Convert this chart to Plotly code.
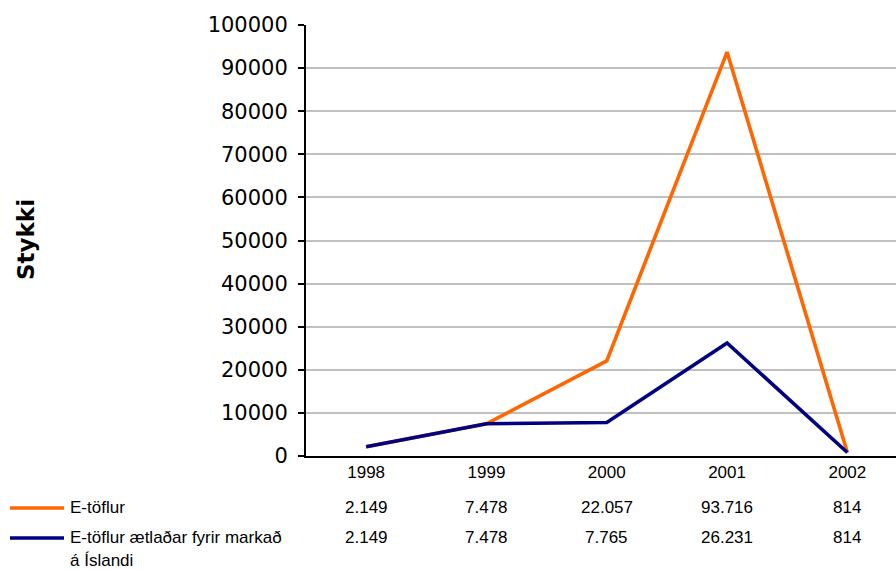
import plotly.graph_objects as go

years = ["1998", "1999", "2000", "2001", "2002"]
e_toflur = [2149, 7478, 22057, 93716, 814]
e_toflur_island = [2149, 7478, 7765, 26231, 814]
series_names = ["E-töflur", "E-töflur ætlaðar fyrir markað", "á Íslandi"]
y_title = "Stykki"
colors = ["#FF6600", "#000080"]

W, H = 896, 570
L, R, T, B = 306, 0, 25, 114
PW = W - L - R
PH = H - T - B


def px_x(px):
    return (px - L) / PW


def px_y(py):
    return (H - B - py) / PH


def fmt(v):
    return f"{v:,}".replace(",", ".")


fig = go.Figure()
fig.add_trace(go.Scatter(x=years, y=e_toflur, mode="lines",
                         line=dict(color=colors[0], width=3.6), showlegend=False))
fig.add_trace(go.Scatter(x=years, y=e_toflur_island, mode="lines",
                         line=dict(color=colors[1], width=3.6), showlegend=False))

tfont = dict(family="Liberation Sans, Arial, sans-serif", size=17, color="#000")
ann = []
for i, (a, b) in enumerate(zip(e_toflur, e_toflur_island)):
    ann.append(dict(x=i, xref="x", y=px_y(507), yref="paper", text=fmt(a),
                    showarrow=False, font=tfont, xanchor="center", yanchor="middle"))
    ann.append(dict(x=i, xref="x", y=px_y(537), yref="paper", text=fmt(b),
                    showarrow=False, font=tfont, xanchor="center", yanchor="middle"))

ann.append(dict(x=px_x(68), xref="paper", y=px_y(507), yref="paper", text=series_names[0],
                showarrow=False, font=tfont, xanchor="left", yanchor="middle"))
ann.append(dict(x=px_x(68), xref="paper", y=px_y(537), yref="paper", text=series_names[1],
                showarrow=False, font=tfont, xanchor="left", yanchor="middle"))
ann.append(dict(x=px_x(68), xref="paper", y=px_y(560), yref="paper", text=series_names[2],
                showarrow=False, font=tfont, xanchor="left", yanchor="middle"))
ann.append(dict(x=px_x(26), xref="paper", y=px_y(240), yref="paper", text="<b>" + y_title + "</b>",
                showarrow=False, textangle=-90,
                font=dict(family="DejaVu Sans, Verdana, sans-serif", size=23, color="#000"),
                xanchor="center", yanchor="middle"))

shapes = [
    dict(type="line", xref="paper", yref="paper", x0=px_x(10), x1=px_x(64),
         y0=px_y(508), y1=px_y(508), line=dict(color=colors[0], width=3.6)),
    dict(type="line", xref="paper", yref="paper", x0=px_x(10), x1=px_x(64),
         y0=px_y(538), y1=px_y(538), line=dict(color=colors[1], width=3.6)),
]

fig.update_layout(
    width=W, height=H,
    margin=dict(l=L, r=R, t=T, b=B, pad=0),
    paper_bgcolor="white", plot_bgcolor="white",
    annotations=ann, shapes=shapes,
    xaxis=dict(type="category", range=[-0.5, (W - L) / 120.3 - 0.5],
               showgrid=False, showline=True, linecolor="#000", linewidth=2,
               ticks="", tickfont=tfont, zeroline=False, fixedrange=True),
    yaxis=dict(range=[0, 100000], dtick=10000, showgrid=True, gridcolor="#C0C0C0",
               gridwidth=2, showline=True, linecolor="#000", linewidth=2,
               ticks="outside", ticklen=6, tickwidth=2, tickcolor="#000",
               tickfont=dict(family="DejaVu Sans, Verdana, sans-serif", size=21, color="#000"),
               ticklabelstandoff=6, zeroline=False, tickformat="d"),
)

fig.write_html("out.html", config={"displayModeBar": False},
               post_script="document.body.style.margin='0';")
